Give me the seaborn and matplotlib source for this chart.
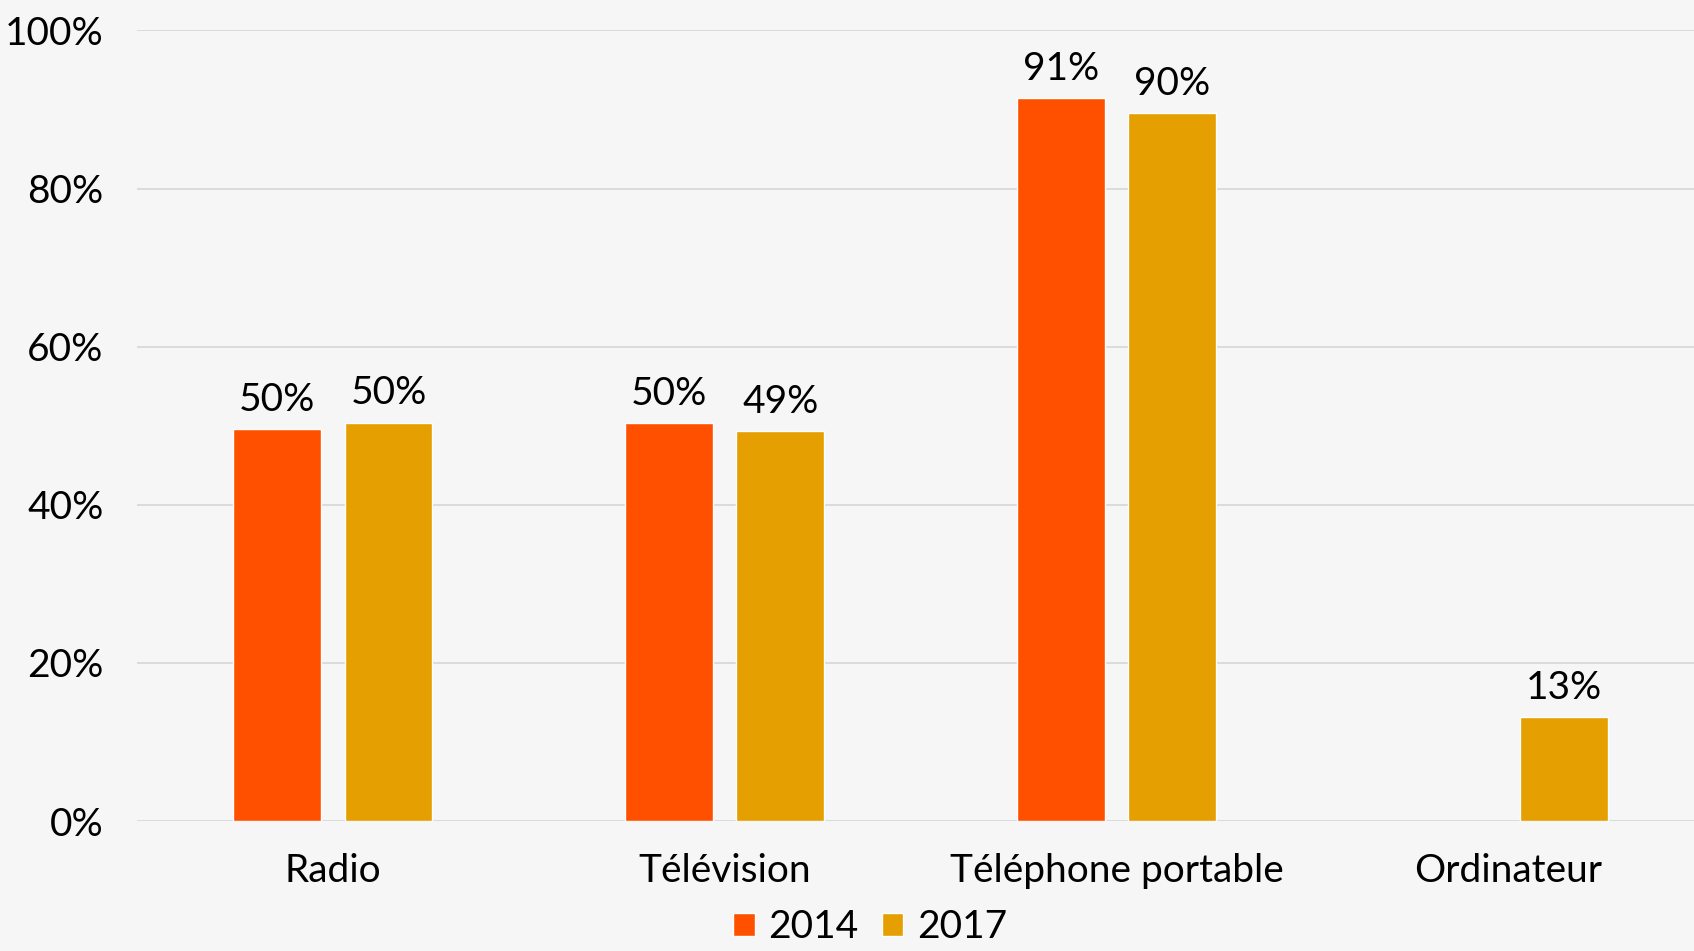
import numpy as np
import pandas as pd
import matplotlib
matplotlib.use("Agg")
import matplotlib.pyplot as plt
import seaborn as sns

categories = ["Radio", "Télévision", "Téléphone portable", "Ordinateur"]
years = ["2014", "2017"]
values_2014 = [49.6, 50.3, 91.4, np.nan]
values_2017 = [50.4, 49.3, 89.6, 13.1]
labels_2014 = ["50%", "50%", "91%", ""]
labels_2017 = ["50%", "49%", "90%", "13%"]
colors = ["#FF5000", "#E69F00"]

df = pd.DataFrame({
    "categorie": categories * 2,
    "annee": [years[0]] * 4 + [years[1]] * 4,
    "valeur": values_2014 + values_2017,
})

sns.set_style("white")
plt.rcParams["font.family"] = ["Lato", "DejaVu Sans"]
plt.rcParams["text.color"] = "black"
bg = "#F6F6F6"
fs = 28

fig = plt.figure(figsize=(16.94, 9.51), dpi=100, facecolor=bg)
# l'axe deborde un peu a droite, comme dans l'original
ax = fig.add_axes([137 / 1694, 1 - 821 / 951, (1704 - 137) / 1694, (821 - 30.5) / 951])
ax.set_facecolor(bg)

sns.barplot(data=df, x="categorie", y="valeur", hue="annee", palette=colors,
            width=0.568, gap=0.21, saturation=1, ax=ax, legend=True,
            errorbar=None, zorder=3)

ax.set_ylim(0, 100)
ax.set_xlim(-0.5, 3.5)
ax.set_yticks(np.arange(0, 101, 20))
ax.set_yticklabels(["{}%".format(v) for v in range(0, 101, 20)])
ax.grid(axis="y", color="#D9D9D9", linewidth=1.3, zorder=0)
ax.set_axisbelow(True)
for s in ax.spines.values():
    s.set_visible(False)
ax.set_xlabel("")
ax.set_ylabel("")
ax.tick_params(axis="both", length=0, labelsize=fs, colors="black")
ax.tick_params(axis="y", pad=24)
ax.tick_params(axis="x", pad=23)

# etiquettes au-dessus des barres (on saute les barres vides)
for cont, labs in zip(ax.containers, [labels_2014, labels_2017]):
    for bar, lab in zip(cont, labs):
        if bar is None or lab == "" or np.isnan(bar.get_height()):
            continue
        ax.annotate(lab, (bar.get_x() + bar.get_width() / 2, bar.get_height()),
                    xytext=(0, 8), textcoords="offset points",
                    ha="center", va="bottom", fontsize=fs, color="black")

handles, lbls = ax.get_legend_handles_labels()
ax.get_legend().remove()
fig.legend(handles, lbls, loc="center", bbox_to_anchor=(870 / 1694, 0.025),
           ncol=2, frameon=False, fontsize=fs, handlelength=0.55, handleheight=0.55,
           handletextpad=0.35, columnspacing=0.6, labelcolor="black",
           borderpad=0.1)

fig.savefig("out.png", dpi=100, facecolor=bg)
